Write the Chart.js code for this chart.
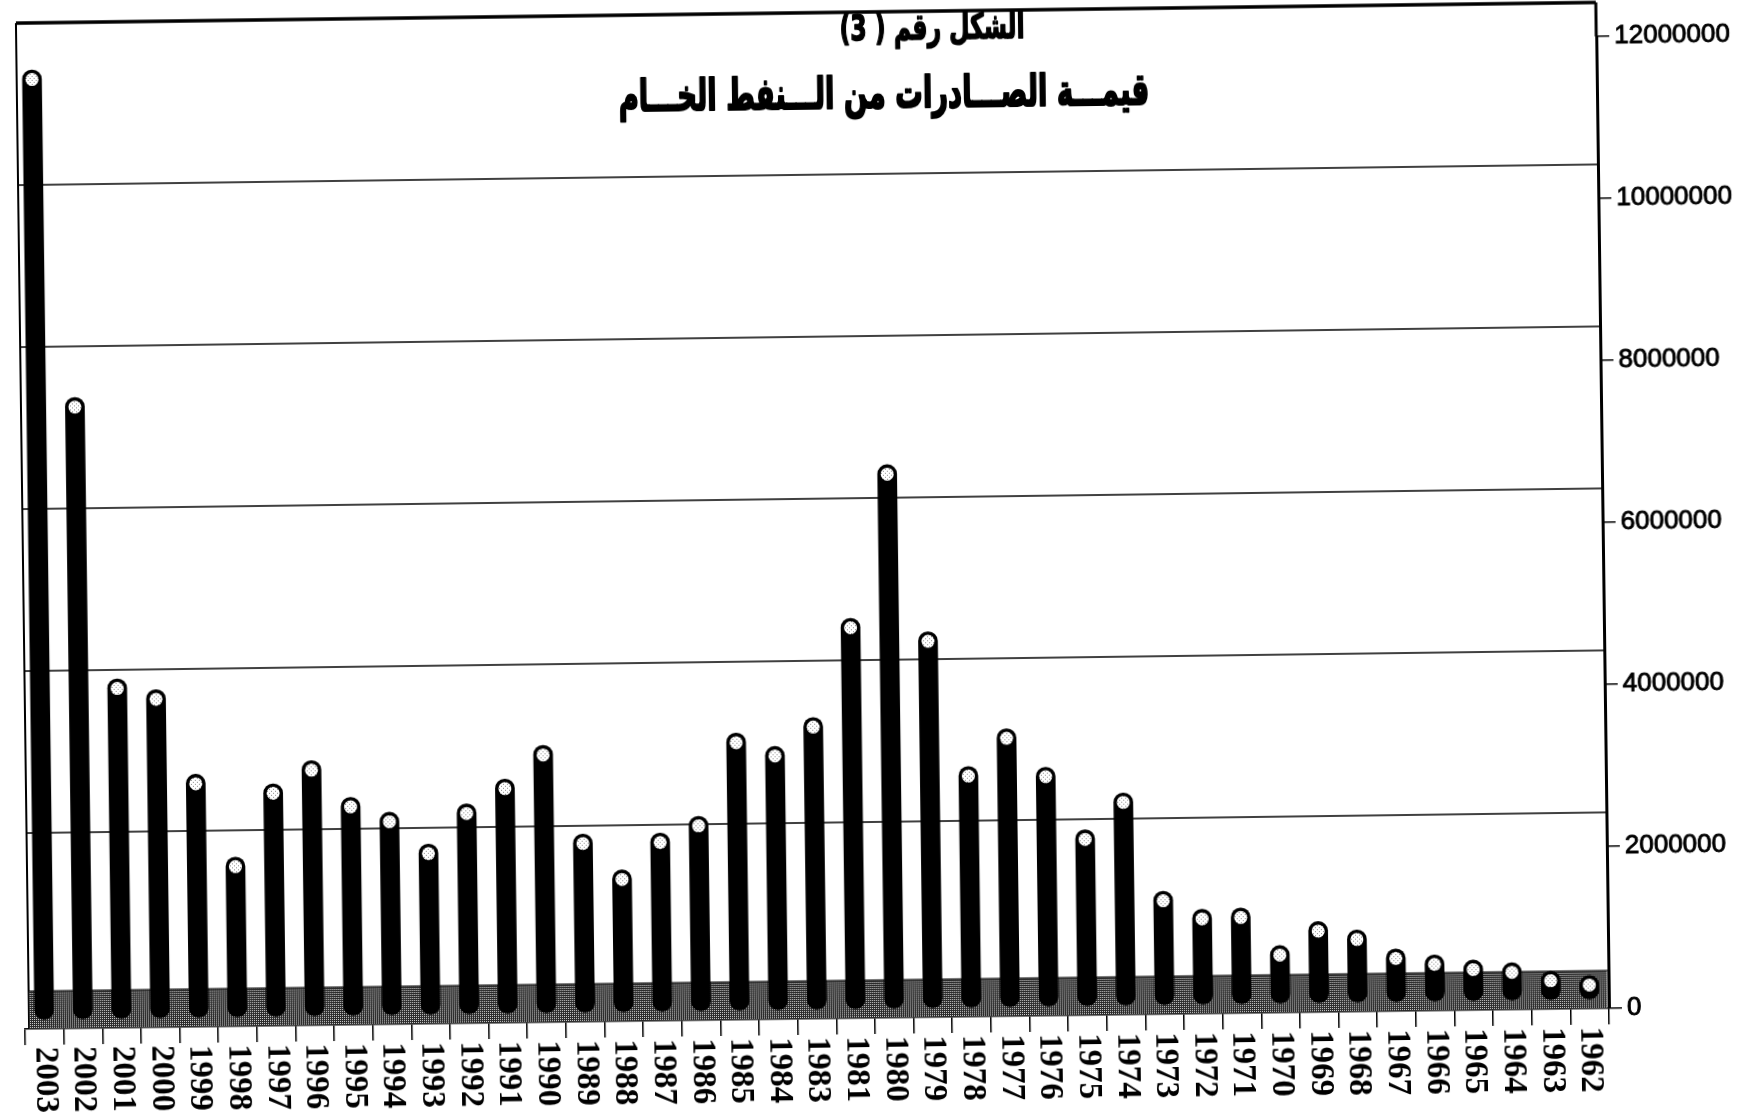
<!DOCTYPE html>
<html>
<head>
<meta charset="utf-8">
<script src="https://cdn.jsdelivr.net/npm/chart.js@4.4.1/dist/chart.umd.min.js"></script>
<style>
html,body{margin:0;padding:0;background:#fff;overflow:hidden;width:1740px;height:1115px;}
#c{display:block;transform:rotate(-0.75deg);transform-origin:50% 50%;background:#fff;}
</style>
</head>
<body>
<canvas id="c" width="1740" height="1115"></canvas>
<script>
// ---- data ----
const years = ['2003','2002','2001','2000','1999','1998','1997','1996','1995','1994','1993','1992','1991','1990','1989','1988','1987','1986','1985','1984','1983','1981','1980','1979','1978','1977','1976','1975','1974','1973','1972','1971','1970','1969','1968','1967','1966','1965','1964','1963','1962'];
const exportValues = [11480000,7430000,3950000,3810000,2760000,1730000,2630000,2910000,2450000,2260000,1860000,2350000,2650000,3060000,1960000,1510000,1960000,2160000,3180000,3010000,3360000,4580000,6470000,4400000,2730000,3190000,2710000,1930000,2380000,1160000,930000,940000,470000,760000,650000,410000,330000,260000,220000,110000,50000];
const yTicks = [0,2000000,4000000,6000000,8000000,10000000,12000000];
const titleLine1 = 'الشكل رقم ( 3)';
const titleLine2 = 'قيمـــة الصـــادرات من الـــنفط الخـــام';

// ---- style constants ----
const BACK_DEPTH = 34;   // 3D depth of back wall (px)
const FLOOR_DEPTH = 38;
const BAR_LIFT = 29;     // bars sit mid-depth
const BAR_BASE = -240000; // cylinder bottoms reach into the floor

function makePattern(ctx, bg, fg, pts){
  const p = document.createElement('canvas'); p.width = 4; p.height = 4;
  const c = p.getContext('2d');
  c.fillStyle = bg; c.fillRect(0,0,4,4);
  c.fillStyle = fg; pts.forEach(([x,y])=>c.fillRect(x,y,1,1));
  return ctx.createPattern(p,'repeat');
}

function line(ctx,x1,y1,x2,y2){ctx.beginPath();ctx.moveTo(x1,y1);ctx.lineTo(x2,y2);ctx.stroke();}

const threeD = {
  id:'threeD',
  beforeDatasetsDraw(chart){
    const {ctx, chartArea:a, scales:{y}} = chart;
    const wallX = a.left + 4;
    const y0 = y.getPixelForValue(0);
    const topY = y.getPixelForValue(yTicks[yTicks.length-1]) - BACK_DEPTH;
    ctx.save();
    ctx.strokeStyle = '#000';
    // back wall gridlines
    yTicks.forEach(v=>{
      if (v === 0) return;
      const py = y.getPixelForValue(v) - BACK_DEPTH;
      ctx.lineWidth = (v === yTicks[yTicks.length-1]) ? 3.5 : 1.6;
      line(ctx, wallX, py, a.right, py);
    });
    // left wall edge
    ctx.lineWidth = 2;
    line(ctx, wallX, topY, wallX, y0);
    // right axis extension to the top frame
    ctx.lineWidth = 3;
    line(ctx, a.right, topY, a.right, a.top);
    // floor
    ctx.fillStyle = makePattern(ctx, '#2a2a2a', '#d0d0d0', [[0,0],[2,2],[2,0],[0,2]]);
    ctx.fillRect(wallX, y0 - FLOOR_DEPTH, a.right - wallX - 1.5, FLOOR_DEPTH);
    ctx.lineWidth = 1.2;
    line(ctx, wallX, y0 - FLOOR_DEPTH, a.right, y0 - FLOOR_DEPTH);
    ctx.restore();
    // lift the cylinders to the middle of the depth
    ctx.save();
    ctx.translate(0, -BAR_LIFT);
  },
  afterDatasetsDraw(chart){
    const {ctx} = chart;
    const meta = chart.getDatasetMeta(0);
    const dotPat = makePattern(ctx, '#ffffff', '#8a8a8a', [[0,0],[2,2]]);
    meta.data.forEach(bar=>{
      const r = bar.width/2;
      ctx.beginPath();
      ctx.arc(bar.x, bar.y + r, 6.5, 0, Math.PI*2);
      ctx.fillStyle = dotPat; ctx.fill();
    });
    ctx.restore();
  },
  afterDraw(chart){
    const {ctx, chartArea:a, scales:{x}} = chart;
    ctx.save();
    ctx.fillStyle = '#000';
    // category labels, rotated clockwise
    ctx.font = 'bold 33px "Liberation Serif", "Times New Roman", serif';
    ctx.textAlign = 'left'; ctx.textBaseline = 'middle';
    years.forEach((lab,i)=>{
      const px = x.getPixelForTick(i);
      ctx.save();
      ctx.translate(px, a.bottom + 18);
      ctx.rotate(Math.PI/2);
      ctx.fillText(lab, 0, 0);
      ctx.restore();
    });
    // titles (heavy Arabic lettering)
    ctx.direction = 'rtl';
    ctx.textAlign = 'center'; ctx.textBaseline = 'middle';
    ctx.strokeStyle = '#000'; ctx.lineJoin = 'round';
    const fam = '"DejaVu Sans", sans-serif';
    const drawTitle = (t, size, w, cx, cy, sw)=>{
      ctx.font = 'bold ' + size + 'px ' + fam;
      const k = w / (ctx.measureText(t).width + sw);
      ctx.save();
      ctx.translate(cx, cy);
      ctx.scale(k, 1);
      ctx.lineWidth = sw;
      ctx.strokeText(t, 0, 0);
      ctx.fillText(t, 0, 0);
      ctx.restore();
    };
    drawTitle(titleLine1, 36, 186, 939, 31, 1.6);
    drawTitle(titleLine2, 44, 532, 890, 97, 2.2);
    ctx.restore();
  }
};

const ctx = document.getElementById('c').getContext('2d');
new Chart(ctx, {
  type: 'bar',
  data: {
    labels: years,
    datasets: [{
      data: exportValues,
      backgroundColor: '#000',
      borderRadius: 10,
      borderSkipped: false,
      barThickness: 19,
      base: BAR_BASE,
      clip: false
    }]
  },
  options: {
    responsive: false,
    animation: false,
    devicePixelRatio: 1,
    layout: {padding: {left: 19, top: 46, right: 0, bottom: 0}},
    plugins: {legend: {display: false}, tooltip: {enabled: false}, title: {display: false}},
    scales: {
      x: {
        type: 'category',
        offset: true,
        grid: {display: true, drawOnChartArea: false, drawTicks: true, tickLength: 16, color: '#000', lineWidth: 1.5, offset: true},
        border: {display: true, color: '#000', width: 1.5},
        ticks: {display: false},
        afterFit(s){ s.height = 97; }
      },
      y: {
        position: 'right',
        min: 0,
        max: 12000000,
        afterBuildTicks(s){ s.ticks = yTicks.map(v=>({value: v})); },
        grid: {display: true, drawOnChartArea: false, drawTicks: true, tickLength: 13, color: '#000', lineWidth: 1.5},
        border: {display: true, color: '#000', width: 3},
        ticks: {padding: 5, color: '#000', textStrokeColor: '#000', textStrokeWidth: 0.9, font: {family: '"Liberation Sans", Arial, sans-serif', size: 26}, callback: v => String(v)},
        afterFit(s){ s.width = 137; }
      }
    }
  },
  plugins: [threeD]
});
</script>
</body>
</html>
